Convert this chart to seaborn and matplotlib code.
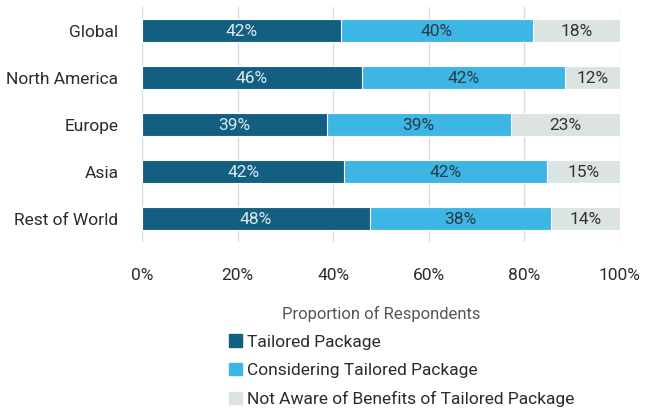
import numpy as np
import pandas as pd
import seaborn as sns
import matplotlib.pyplot as plt

# Data (percent of respondents)
regions = ['Global', 'North America', 'Europe', 'Asia', 'Rest of World']
tailored = [41.6, 46.0, 38.6, 42.3, 47.6]
considering = [40.2, 42.4, 38.6, 42.4, 38.0]
not_aware = [18.2, 11.6, 22.8, 15.3, 14.4]
series_names = ['Tailored Package', 'Considering Tailored Package',
                'Not Aware of Benefits of Tailored Package']
colors = ['#135f81', '#3db6e6', '#dce3e3']
label_colors = ['#dfe9ef', '#2a3a44', '#333333']

sns.set_style('white')
plt.rcParams['font.family'] = ['Roboto', 'DejaVu Sans']

df = pd.DataFrame({'region': regions, 'tailored': tailored,
                   'considering': considering, 'not_aware': not_aware})
df['c1'] = df['tailored']
df['c2'] = df['c1'] + df['considering']
df['c3'] = df['c2'] + df['not_aware']

fig = plt.figure(figsize=(6.53, 4.12), dpi=100)
ax = fig.add_axes([142 / 653, (412 - 242) / 412, 478 / 653, 235 / 412])

# draw the stack back to front so each segment shows
for col, color, name in zip(['c3', 'c2', 'c1'], colors[::-1], series_names[::-1]):
    sns.barplot(data=df, x=col, y='region', orient='h', color=color, saturation=1,
                width=0.51, edgecolor='white', linewidth=0.8, label=name, ax=ax)

# segment labels
for i, row in df.iterrows():
    starts = [0, row['c1'], row['c2']]
    vals = [row['tailored'], row['considering'], row['not_aware']]
    for s, v, tc in zip(starts, vals, label_colors):
        ax.text(s + v / 2, i + 0.02, f'{v:.0f}%', ha='center', va='center',
                fontsize=12.5, color=tc)

ax.set_xlim(0, 100)
ax.set_ylim(4.5, -0.5)
ax.set_xticks([0, 20, 40, 60, 80, 100])
ax.set_xticklabels([f'{t}%' for t in [0, 20, 40, 60, 80, 100]])
ax.xaxis.grid(True, color='#d8dcdf', linewidth=1)
ax.set_axisbelow(True)
ax.tick_params(axis='x', length=0, pad=19, labelsize=12.5, labelcolor='#2b2b2b')
ax.tick_params(axis='y', length=0, pad=17, labelsize=12.5, labelcolor='#2b2b2b')
for sp in ax.spines.values():
    sp.set_visible(False)
ax.set_ylabel('')
ax.set_xlabel('Proportion of Respondents', fontsize=12, color='#555555', labelpad=16)

if ax.get_legend():
    ax.get_legend().remove()
handles = [plt.Rectangle((0, 0), 1, 1, color=c) for c in colors]
fig.legend(handles, series_names, loc='upper left', bbox_to_anchor=(0.338, 0.21),
           frameon=False, handlelength=0.75, handleheight=0.75, handletextpad=0.25,
           labelspacing=0.75, fontsize=12.5, labelcolor='#2b2b2b', borderpad=0)

fig.savefig('out.png', dpi=100)
